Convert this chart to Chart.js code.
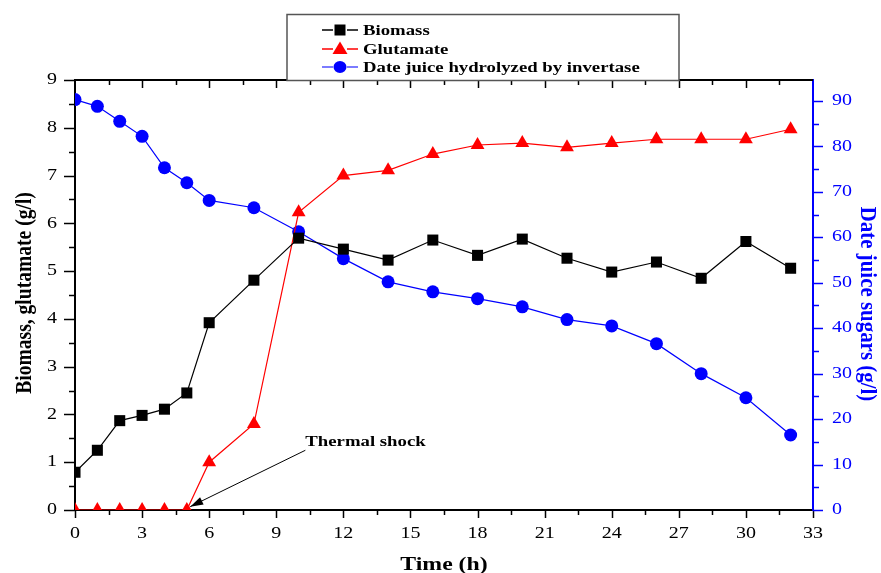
<!DOCTYPE html>
<html>
<head>
<meta charset="utf-8">
<script src="https://cdn.jsdelivr.net/npm/chart.js@4/dist/chart.umd.min.js"></script>
<style>
html,body{margin:0;padding:0;background:#fff;}
#wrap{width:881px;height:573px;position:relative;}
</style>
</head>
<body>
<div id="wrap"><canvas id="c" width="881" height="573"></canvas></div>
<script>
// ---- data ----
const hours = [0,1,2,3,4,5,6,8,10,12,14,16,18,20,22,24,26,28,30,32];
const biomass = [0.79,1.25,1.87,1.98,2.11,2.45,3.92,4.81,5.69,5.46,5.23,5.65,5.33,5.67,5.27,4.98,5.19,4.85,5.62,5.06];
const glutamate = [0,0,0,0,0,0,1.0,1.8,6.23,7.0,7.11,7.45,7.64,7.68,7.59,7.68,7.76,7.76,7.76,7.97];
const sugars = [90.3,88.8,85.5,82.2,75.3,72.0,68.1,66.5,61.2,55.3,50.2,48.0,46.5,44.7,41.9,40.5,36.6,30.0,24.7,16.5];
const seriesNames = ['Biomass','Glutamate','Date juice hydrolyzed by invertase'];
const xTicks = [0,3,6,9,12,15,18,21,24,27,30,33];
const leftTicks = [0,1,2,3,4,5,6,7,8,9];
const rightTicks = [0,10,20,30,40,50,60,70,80,90];
const xTitle = 'Time (h)';
const leftTitle = 'Biomass, glutamate (g/l)';
const rightTitle = 'Date juice sugars (g/l)';
const annotationText = 'Thermal shock';

const serif = "'Liberation Serif','Times New Roman',serif";
const SX = 1.25; // horizontal glyph stretch seen in the reference
const pts = arr => hours.map((h,i)=>({x:h,y:arr[i]}));

function stext(ctx,text,x,y,font,color,align,rot,lenScale){
  ctx.save();
  ctx.translate(x,y);
  if(rot){ctx.rotate(rot); ctx.scale(lenScale||1,SX);} else {ctx.scale(SX,1);}
  ctx.font=font; ctx.fillStyle=color; ctx.textAlign=align||'left'; ctx.textBaseline='middle';
  ctx.fillText(text,0,0);
  ctx.restore();
}

const axisPlugin = {
  id:'axisdeco',
  afterDraw(chart){
    const ctx = chart.ctx, a = chart.chartArea;
    const xs = chart.scales.x, yl = chart.scales.y, yr = chart.scales.y2;
    ctx.save();
    // top border
    ctx.strokeStyle='#000'; ctx.lineWidth=2;
    ctx.beginPath(); ctx.moveTo(a.left-1,a.top); ctx.lineTo(a.right,a.top); ctx.stroke();
    ctx.lineWidth=1.5;
    // x ticks bottom & top
    for(let i=0;i<=22;i++){
      const v=i*1.5, px=Math.round(xs.getPixelForValue(v))+0.5, major=i%2===0;
      ctx.beginPath();
      ctx.moveTo(px,a.bottom); ctx.lineTo(px,a.bottom+(major?8:5));
      if(i>0 && i<22){ctx.moveTo(px,a.top); ctx.lineTo(px,a.top+(major?8:5));}
      ctx.stroke();
    }
    // left ticks
    for(let i=0;i<=18;i++){
      const py=Math.round(yl.getPixelForValue(i*0.5))+0.5, major=i%2===0;
      ctx.beginPath(); ctx.moveTo(a.left,py); ctx.lineTo(a.left-(major?11:6),py); ctx.stroke();
    }
    // right ticks
    ctx.strokeStyle='#0000ff';
    for(let i=0;i<=18;i++){
      const py=Math.round(yr.getPixelForValue(i*5))+0.5, major=i%2===0;
      ctx.beginPath(); ctx.moveTo(a.right,py); ctx.lineTo(a.right+(major?10:6),py); ctx.stroke();
    }
    // tick labels
    const tf = "16px "+serif;
    xs.ticks.forEach(t=>stext(ctx,String(t.value),xs.getPixelForValue(t.value),a.bottom+24,tf,'#000','center'));
    yl.ticks.forEach(t=>stext(ctx,String(t.value),a.left-18,yl.getPixelForValue(t.value),tf,'#000','right'));
    yr.ticks.forEach(t=>stext(ctx,String(t.value),a.right+19,yr.getPixelForValue(t.value),tf,'#0000ff','left'));
    // axis titles
    const bf = "bold 19px "+serif;
    stext(ctx,xTitle,(a.left+a.right)/2,565,bf,'#000','center');
    stext(ctx,leftTitle,25,(a.top+a.bottom)/2-2,bf,'#000','center',-Math.PI/2,1.03);
    stext(ctx,rightTitle,867,(a.top+a.bottom)/2+9,bf,'#0000ff','center',Math.PI/2,1.1);
    // annotation
    const x0=xs.getPixelForValue(10.3), y0=yl.getPixelForValue(1.25);
    const x1=xs.getPixelForValue(5.15), y1=yl.getPixelForValue(0.07);
    ctx.strokeStyle='#000'; ctx.fillStyle='#000'; ctx.lineWidth=1;
    ctx.beginPath(); ctx.moveTo(x0,y0); ctx.lineTo(x1,y1); ctx.stroke();
    const ang=Math.atan2(y1-y0,x1-x0), L=13, W=4;
    ctx.beginPath();
    ctx.moveTo(x1,y1);
    ctx.lineTo(x1-L*Math.cos(ang)+W*Math.sin(ang), y1-L*Math.sin(ang)-W*Math.cos(ang));
    ctx.lineTo(x1-L*Math.cos(ang)-W*Math.sin(ang), y1-L*Math.sin(ang)+W*Math.cos(ang));
    ctx.closePath(); ctx.fill();
    stext(ctx,annotationText,xs.getPixelForValue(10.3),yl.getPixelForValue(1.42),"bold 15px "+serif,'#000','left');
    ctx.restore();
  }
};

function drawMarker(ctx,style,x,y,color){
  ctx.fillStyle=color;
  ctx.beginPath();
  if(style==='rect'){ctx.rect(x-5.5,y-5.5,11,11);}
  else if(style==='triangle'){ctx.moveTo(x,y-7.5);ctx.lineTo(x+7.5,y+5);ctx.lineTo(x-7.5,y+5);ctx.closePath();}
  else {ctx.ellipse(x,y,6.5,6,0,0,Math.PI*2);}
  ctx.fill();
}

const legendPlugin = {
  id:'boxlegend',
  afterDraw(chart){
    const ctx=chart.ctx;
    ctx.save();
    ctx.fillStyle='#fff';
    ctx.fillRect(287,14,392,66);
    ctx.strokeStyle='#555'; ctx.lineWidth=1.5;
    ctx.strokeRect(287,14.5,392,66);
    const rows=[30,49,67];
    chart.data.datasets.forEach((ds,i)=>{
      const y=rows[i];
      ctx.strokeStyle=ds.legendLine; ctx.lineWidth=1.3;
      ctx.beginPath(); ctx.moveTo(322,y); ctx.lineTo(333,y); ctx.moveTo(347,y); ctx.lineTo(358,y); ctx.stroke();
      drawMarker(ctx,ds.pointStyle,340,y,ds.pointBackgroundColor);
      stext(ctx,ds.label,363,y+1,"bold 15px "+serif,'#000','left');
    });
    ctx.restore();
  }
};

new Chart(document.getElementById('c'),{
  type:'scatter',
  data:{datasets:[
    {label:seriesNames[0],data:pts(biomass),yAxisID:'y',showLine:true,borderColor:'#000',borderWidth:1.2,
     pointStyle:'rect',pointRadius:7.8,pointBackgroundColor:'#000',pointBorderWidth:0,legendLine:'#000',clip:0},
    {label:seriesNames[1],data:pts(glutamate),yAxisID:'y',showLine:true,borderColor:'#ff0000',borderWidth:1.2,
     pointStyle:'triangle',pointRadius:8,pointBackgroundColor:'#ff0000',pointBorderWidth:0,legendLine:'#ff0000',clip:0},
    {label:seriesNames[2],data:pts(sugars),yAxisID:'y2',showLine:true,borderColor:'#0000ff',borderWidth:1.2,
     pointStyle:'circle',pointRadius:6.5,pointBackgroundColor:'#0000ff',pointBorderWidth:0,legendLine:'#5050ff',clip:0}
  ]},
  options:{
    responsive:false,animation:false,
    layout:{padding:{top:80,left:0,right:0,bottom:0}},
    plugins:{legend:{display:false},tooltip:{enabled:false}},
    scales:{
      x:{type:'linear',min:0,max:33,position:'bottom',
        afterFit(s){s.height=63;},
        afterBuildTicks(s){s.ticks=xTicks.map(v=>({value:v}));},
        grid:{drawOnChartArea:false,drawTicks:false},
        border:{display:true,color:'#000',width:2},
        ticks:{display:false}
      },
      y:{type:'linear',min:0,max:9,position:'left',
        afterFit(s){s.width=75;},
        afterBuildTicks(s){s.ticks=leftTicks.map(v=>({value:v}));},
        grid:{drawOnChartArea:false,drawTicks:false},
        border:{display:true,color:'#000',width:2},
        ticks:{display:false}
      },
      y2:{type:'linear',min:0,max:94.6,position:'right',
        afterFit(s){s.width=68;},
        afterBuildTicks(s){s.ticks=rightTicks.map(v=>({value:v}));},
        grid:{drawOnChartArea:false,drawTicks:false},
        border:{display:true,color:'#0000ff',width:2},
        ticks:{display:false}
      }
    }
  },
  plugins:[axisPlugin,legendPlugin]
});
</script>
</body>
</html>
